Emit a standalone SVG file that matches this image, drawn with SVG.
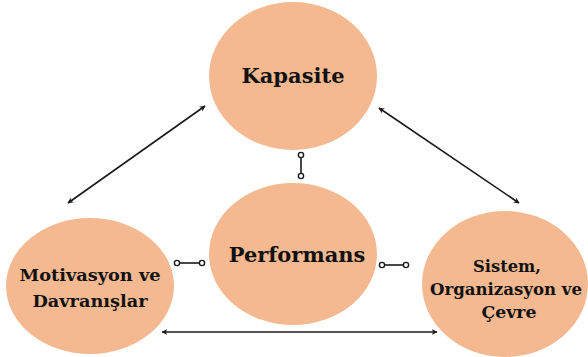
<svg xmlns="http://www.w3.org/2000/svg" width="588" height="357" viewBox="0 0 588 357">
  <style>
    .node { fill: #F4B990; }
    .label { font-family: "DejaVu Serif", "Liberation Serif", serif; font-weight: bold; fill: #111; text-anchor: middle; }
    .big { font-size: 21px; }
    .small { font-family: "DejaVu Serif Condensed", "DejaVu Serif", "Liberation Serif", serif; font-size: 17px; }
    .link { stroke: #1a1a1a; stroke-width: 1.6; fill: none; }
    .tie { stroke: #1a1a1a; stroke-width: 1.6; }
    .end { fill: #fff; stroke: #1a1a1a; stroke-width: 1.4; }
  </style>
  <defs>
    <marker id="arrow" viewBox="0 0 10 10" refX="9" refY="5" markerWidth="6" markerHeight="6" orient="auto-start-reverse" markerUnits="userSpaceOnUse">
      <path d="M0,0 L10,5 L0,10 L3,5 Z" fill="#1a1a1a"/>
    </marker>
  </defs>
  <rect width="588" height="357" fill="#fff"/>

  <g id="kapasite">
    <ellipse class="node" cx="293" cy="76" rx="84" ry="74"/>
    <text class="label big" x="293" y="83">Kapasite</text>
  </g>
  <g id="performans">
    <ellipse class="node" cx="293" cy="254" rx="84" ry="71"/>
    <text class="label big" x="297" y="262">Performans</text>
  </g>
  <g id="motivasyon">
    <ellipse class="node" cx="90" cy="286" rx="84" ry="68"/>
    <text class="label small" x="90" y="281" textLength="141" lengthAdjust="spacingAndGlyphs">Motivasyon ve</text>
    <text class="label small" x="90" y="307" textLength="115" lengthAdjust="spacingAndGlyphs">Davranışlar</text>
  </g>
  <g id="sistem">
    <ellipse class="node" cx="505" cy="284" rx="83" ry="73"/>
    <text class="label small" x="507" y="272" textLength="68" lengthAdjust="spacingAndGlyphs">Sistem,</text>
    <text class="label small" x="506" y="295" textLength="152" lengthAdjust="spacingAndGlyphs">Organizasyon ve</text>
    <text class="label small" x="509" y="318" textLength="55" lengthAdjust="spacingAndGlyphs">Çevre</text>
  </g>

  <g id="connectors">
    <line class="link" x1="68" y1="203" x2="205" y2="106" marker-start="url(#arrow)" marker-end="url(#arrow)"/>
    <line class="link" x1="379" y1="108" x2="519" y2="203" marker-start="url(#arrow)" marker-end="url(#arrow)"/>
    <line class="link" x1="162" y1="332" x2="437" y2="332" marker-start="url(#arrow)" marker-end="url(#arrow)"/>

    <line class="tie" x1="301" y1="155" x2="301" y2="176"/>
    <circle class="end" cx="301" cy="155" r="2.6"/>
    <circle class="end" cx="301" cy="176" r="2.6"/>

    <line class="tie" x1="177" y1="263" x2="202" y2="263"/>
    <circle class="end" cx="177" cy="263" r="2.6"/>
    <circle class="end" cx="202" cy="263" r="2.6"/>

    <line class="tie" x1="382" y1="265" x2="406" y2="265"/>
    <circle class="end" cx="382" cy="265" r="2.6"/>
    <circle class="end" cx="406" cy="265" r="2.6"/>
  </g>
</svg>
